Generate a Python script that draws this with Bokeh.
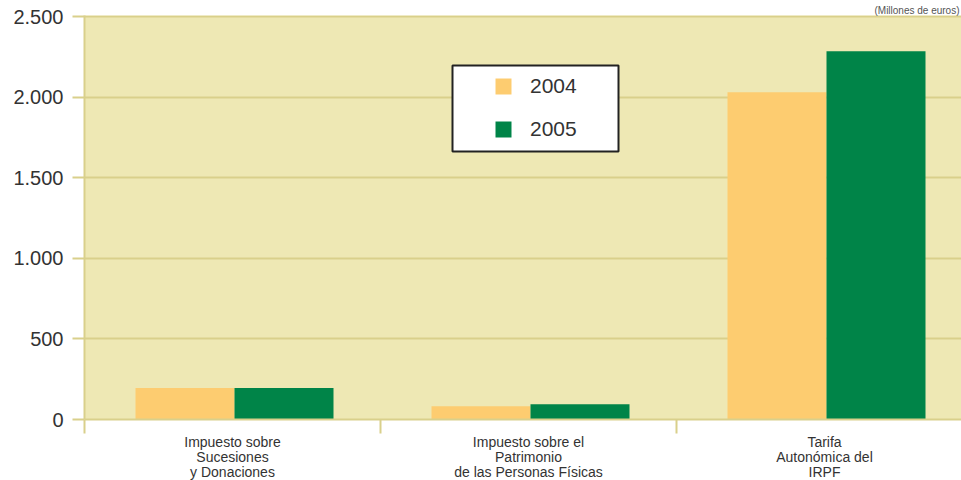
from bokeh.plotting import figure
from bokeh.models import (ColumnDataSource, Range1d, FixedTicker, Legend, LegendItem,
                          BoxAnnotation)
from bokeh.transform import dodge
from bokeh.embed import file_html
from bokeh.resources import INLINE

# ---- data ----
categories = ["Impuesto sobre\nSucesiones\ny Donaciones",
              "Impuesto sobre el\nPatrimonio\nde las Personas Físicas",
              "Tarifa\nAutonómica del\nIRPF"]
values_2004 = [195, 83, 2033]
values_2005 = [196, 95, 2287]
series_names = ["2004", "2005"]
y_ticks = [0, 500, 1000, 1500, 2000, 2500]
y_tick_labels = ["0", "500", "1.000", "1.500", "2.000", "2.500"]
unit_note = "(Millones de euros)"

BG = "#EEE8B4"
GRID = "#D9D08B"
C2004 = "#FDCC70"
C2005 = "#008448"
TXT = "#333333"
FONT = "Liberation Sans"

centers = [i + 0.5 for i in range(len(categories))]
src = ColumnDataSource(dict(x=centers, v2004=values_2004, v2005=values_2005))

x_end = 877 / 296
p = figure(frame_width=877, frame_height=404, output_backend="svg", toolbar_location=None,
           x_range=Range1d(0, x_end), y_range=Range1d(0, 2509),
           min_border_left=84, min_border_right=0, min_border_top=15, min_border_bottom=40,
           title=unit_note)
p.title.align = "right"
p.title.text_font = FONT
p.title.text_font_size = "10px"
p.title.text_font_style = "normal"
p.title.text_color = "#555555"
p.title.standoff = 0
p.title.offset = 2

p.background_fill_color = BG
p.border_fill_color = "white"
p.outline_line_color = None

bw = 99 / 296
shift = 2 / 296
r1 = p.vbar(x=dodge("x", -bw / 2 + shift, range=p.x_range), top="v2004", width=bw, source=src,
            fill_color=C2004, line_color=None)
r2 = p.vbar(x=dodge("x", bw / 2 + shift, range=p.x_range), top="v2005", width=bw, source=src,
            fill_color=C2005, line_color=None)

# grid
p.xgrid.grid_line_color = None
p.ygrid.ticker = FixedTicker(ticks=y_ticks)
p.ygrid.grid_line_color = GRID
p.ygrid.grid_line_width = 2

# y axis
ya = p.yaxis[0]
ya.ticker = FixedTicker(ticks=y_ticks)
ya.major_label_overrides = {t: l for t, l in zip(y_ticks, y_tick_labels)}
ya.axis_line_color = GRID
ya.axis_line_width = 2
ya.major_tick_line_color = GRID
ya.major_tick_line_width = 2
ya.major_tick_out = 12
ya.major_tick_in = 0
ya.minor_tick_line_color = None
ya.minor_tick_out = 0
ya.minor_tick_in = 0
ya.major_label_standoff = 9
ya.major_label_text_font = FONT
ya.major_label_text_font_size = "20px"
ya.major_label_text_color = TXT

# x axis
xa = p.xaxis[0]
xa.ticker = FixedTicker(ticks=centers, minor_ticks=list(range(len(categories) + 1)))
xa.major_label_overrides = {c: l for c, l in zip(centers, categories)}
xa.axis_line_color = GRID
xa.axis_line_width = 2
xa.major_tick_line_color = None
xa.major_tick_out = 0
xa.major_tick_in = 0
xa.minor_tick_line_color = GRID
xa.minor_tick_line_width = 2
xa.minor_tick_out = 14
xa.minor_tick_in = 0
xa.major_label_standoff = 0
xa.major_label_text_font = FONT
xa.major_label_text_font_size = "14px"
xa.major_label_text_color = TXT
xa.major_label_text_line_height = 0.95

# legend box
box = BoxAnnotation(left=(452 - 84) / 296, right=(618 - 84) / 296,
                    top=2199, bottom=1665,
                    fill_color="white", fill_alpha=1.0,
                    line_color="#222222", line_alpha=1.0, line_width=2, level="annotation")
p.add_layout(box)

legend = Legend(items=[LegendItem(label=series_names[0], renderers=[r1]),
                       LegendItem(label=series_names[1], renderers=[r2])],
                location=(409, 278), orientation="vertical",
                background_fill_alpha=0, border_line_color=None,
                padding=0, margin=0, spacing=19,
                glyph_width=20, glyph_height=20, label_height=24,
                label_standoff=17,
                label_text_font=FONT, label_text_font_size="21px",
                label_text_color=TXT, label_text_baseline="middle")
p.add_layout(legend, "center")

open("out.html", "w").write(file_html(p, INLINE))
